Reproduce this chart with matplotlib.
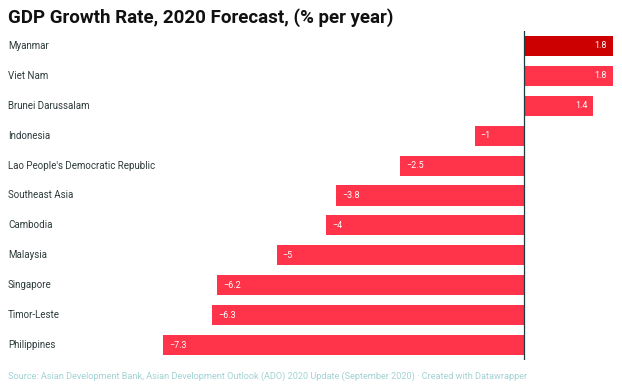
import matplotlib
matplotlib.use("Agg")
import matplotlib.pyplot as plt
import matplotlib.transforms as mtransforms

countries = ["Myanmar", "Viet Nam", "Brunei Darussalam", "Indonesia",
             "Lao People's Democratic Republic", "Southeast Asia", "Cambodia",
             "Malaysia", "Singapore", "Timor-Leste", "Philippines"]
growth = [1.8, 1.8, 1.4, -1.0, -2.5, -3.8, -4.0, -5.0, -6.2, -6.3, -7.3]
highlight = ["Myanmar"]

title = "GDP Growth Rate, 2020 Forecast, (% per year)"
source = ("Source: Asian Development Bank, Asian Development Outlook (ADO) 2020 Update "
          "(September 2020) \u00b7 Created with Datawrapper")

RED = "#ff3349"
DARK_RED = "#cc0000"

plt.rcParams["font.family"] = ["Roboto", "DejaVu Sans"]

fig = plt.figure(figsize=(6.22, 3.89), dpi=100)
ax = fig.add_axes([163 / 622, 1 - 360 / 389, 450 / 622, 329 / 389])

ypos = list(range(len(countries)))
colors = [DARK_RED if c in highlight else RED for c in countries]
ax.barh(ypos, growth, height=0.67, color=colors, zorder=2)
ax.axvline(0, color="#1d3d3f", linewidth=0.9, zorder=3)

ax.set_xlim(-7.3, 1.8)
ax.set_ylim(len(countries) - 0.5, -0.5)
ax.axis("off")

# country labels on the far left
trans = mtransforms.blended_transform_factory(fig.transFigure, ax.transData)
for y, name in zip(ypos, countries):
    ax.text(8 / 622, y, name, transform=trans, ha="left", va="center",
            fontsize=7, color="#2d3a3a")

# values inside the bar ends
for y, v in zip(ypos, growth):
    txt = f"{v:g}".replace("-", "\u2212")
    if v >= 0:
        ax.text(v - 0.12, y, txt, ha="right", va="center", fontsize=6.5,
                color="white", zorder=4)
    else:
        ax.text(v + 0.12, y, txt, ha="left", va="center", fontsize=6.5,
                color="white", zorder=4)

fig.text(8 / 622, 1 - 18 / 389, title, ha="left", va="center",
         fontsize=13.5, fontweight="bold", color="#111111")
fig.text(8 / 622, 1 - 376 / 389, source, ha="left", va="center",
         fontsize=6.6, color="#a3d2d3")

fig.savefig("out.png", dpi=100)
